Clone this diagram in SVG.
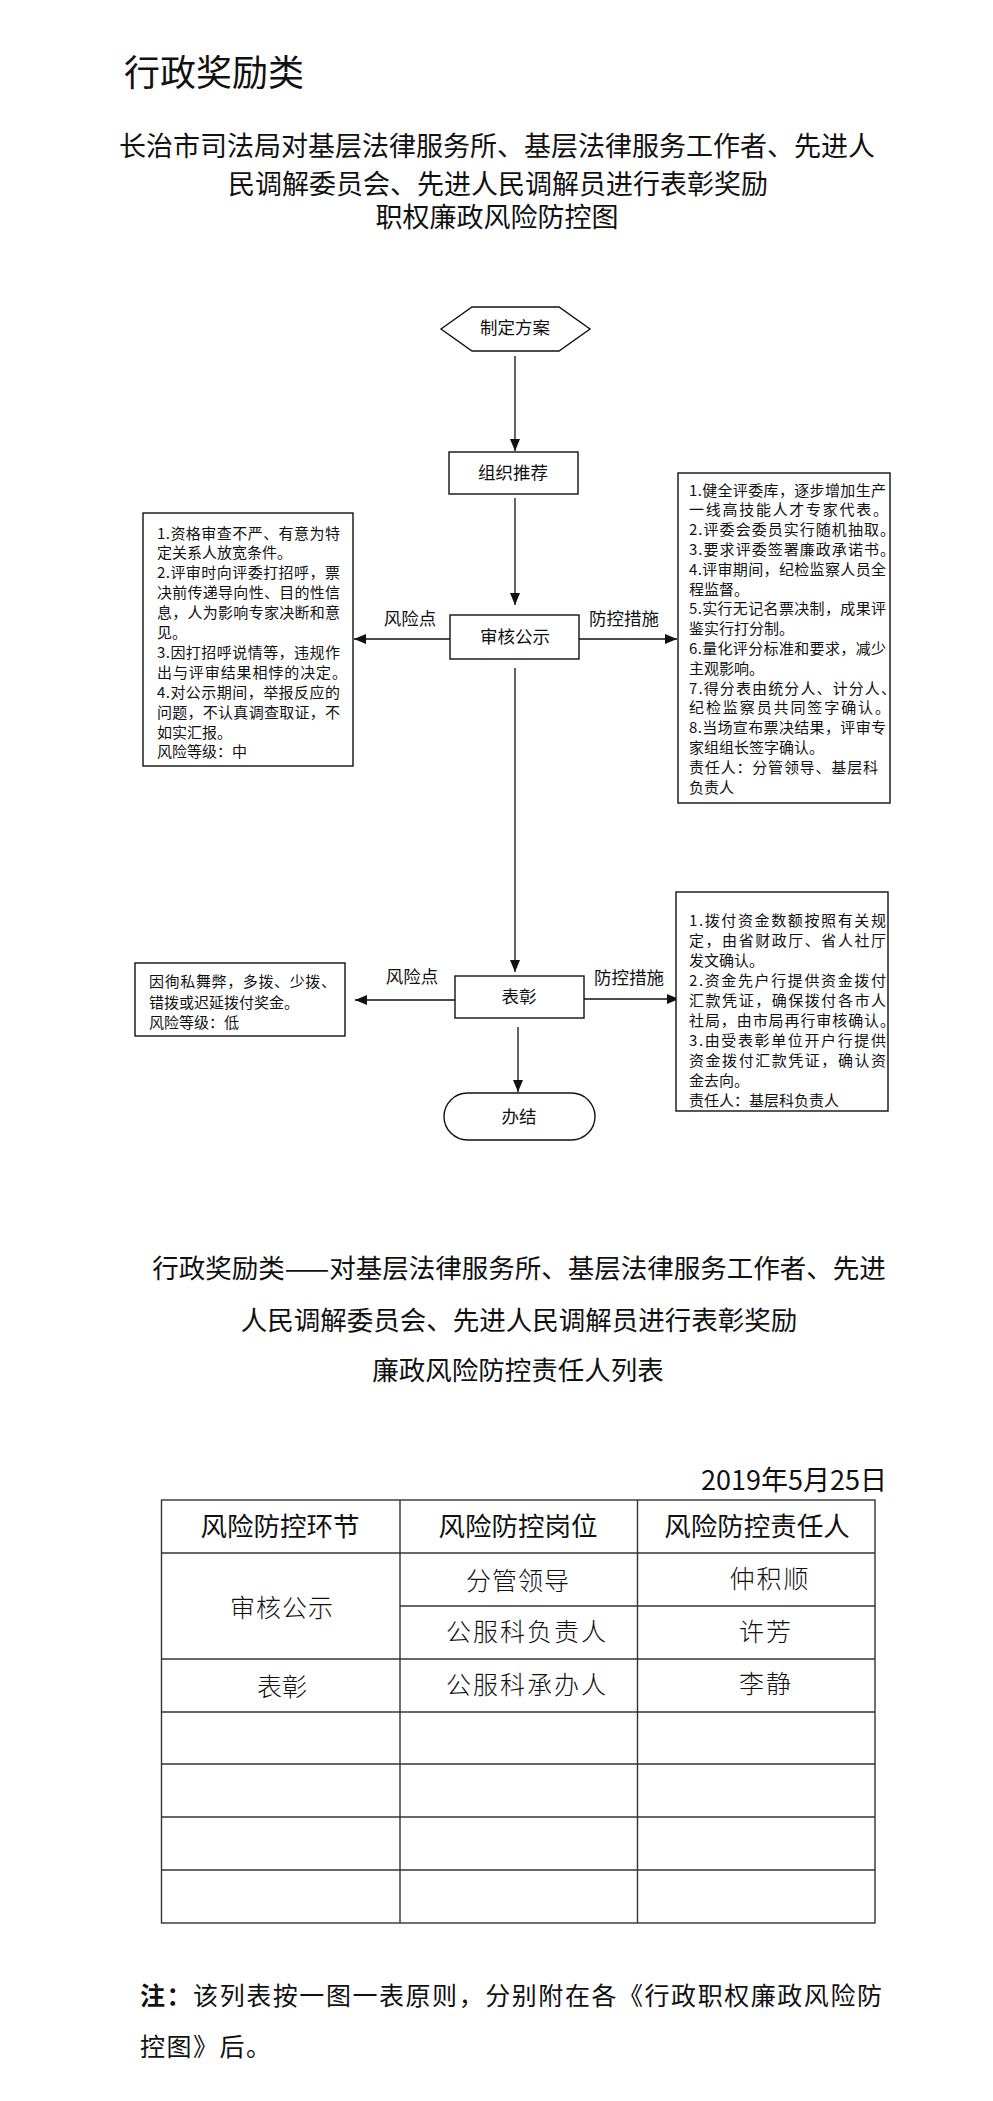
<svg xmlns="http://www.w3.org/2000/svg" width="993" height="2101" viewBox="0 0 993 2101">
<style>
text{font-family:"Noto Sans CJK SC","Liberation Sans",sans-serif;fill:#111}
.h1{font-size:36px}
.h2{font-size:27px;text-anchor:middle}
.h3{font-size:26.5px;text-anchor:middle}
.nd{font-size:17.5px;text-anchor:middle}
.lb{font-size:17.5px;text-anchor:middle}
.bx{font-size:15px}
.shape{fill:#fff;stroke:#111;stroke-width:1.4}
.con{stroke:#111;stroke-width:1.3;fill:none}
.grid{stroke:#333;stroke-width:1.4}
.th{font-size:26.5px;text-anchor:middle}
.td{font-size:25px;text-anchor:middle;font-weight:300}
.note{font-size:25px}
</style>
<defs>
<marker id="arr" viewBox="0 0 12 10" refX="12" refY="5" markerWidth="12" markerHeight="10" markerUnits="userSpaceOnUse" orient="auto">
<path d="M0,0 L12,5 L0,10 Z" fill="#111"/>
</marker>
</defs>
<rect width="993" height="2101" fill="#fff"/>

<text class="h1" x="124" y="86">行政奖励类</text>
<text class="h2" x="497" y="156">长治市司法局对基层法律服务所、基层法律服务工作者、先进人</text>
<text class="h2" x="498" y="194">民调解委员会、先进人民调解员进行表彰奖励</text>
<text class="h2" x="497" y="227">职权廉政风险防控图</text>

<g id="connectors">
<line class="con" x1="515" y1="356" x2="515" y2="451" marker-end="url(#arr)"/>
<line class="con" x1="515" y1="498" x2="515" y2="605" marker-end="url(#arr)"/>
<line class="con" x1="450" y1="639" x2="354" y2="639" marker-end="url(#arr)"/>
<line class="con" x1="579" y1="639" x2="677" y2="639" marker-end="url(#arr)"/>
<line class="con" x1="515" y1="668" x2="515" y2="972" marker-end="url(#arr)"/>
<line class="con" x1="455" y1="1000" x2="355" y2="1000" marker-end="url(#arr)"/>
<line class="con" x1="584" y1="999" x2="679" y2="999" marker-end="url(#arr)"/>
<line class="con" x1="518" y1="1027" x2="518" y2="1092" marker-end="url(#arr)"/>
<text class="lb" x="410" y="625">风险点</text>
<text class="lb" x="624" y="625">防控措施</text>
<text class="lb" x="412" y="983">风险点</text>
<text class="lb" x="629" y="984">防控措施</text>
</g>

<g id="node-start">
<polygon class="shape" points="441,329 472,307 559,307 590,329 559,351 472,351"/>
<text class="nd" x="515" y="334">制定方案</text>
</g>

<g id="node-recommend">
<rect class="shape" x="449" y="452" width="129" height="42"/>
<text class="nd" x="513" y="479">组织推荐</text>
</g>

<g id="node-review">
<rect class="shape" x="450" y="615" width="129" height="44"/>
<text class="nd" x="515" y="643">审核公示</text>
</g>

<g id="risk-review">
<rect class="shape" x="143" y="513" width="210" height="253"/>
<text class="bx" x="157" y="538.5" textLength="183" lengthAdjust="spacing">1.资格审查不严、有意为特</text>
<text class="bx" x="157" y="558.4">定关系人放宽条件。</text>
<text class="bx" x="157" y="578.3" textLength="183" lengthAdjust="spacing">2.评审时向评委打招呼，票</text>
<text class="bx" x="157" y="598.2" textLength="183" lengthAdjust="spacing">决前传递导向性、目的性信</text>
<text class="bx" x="157" y="618.1" textLength="183" lengthAdjust="spacing">息，人为影响专家决断和意</text>
<text class="bx" x="157" y="638">见。</text>
<text class="bx" x="157" y="657.9" textLength="183" lengthAdjust="spacing">3.因打招呼说情等，违规作</text>
<text class="bx" x="157" y="677.8" textLength="190" lengthAdjust="spacing">出与评审结果相悖的决定。</text>
<text class="bx" x="157" y="697.7" textLength="183" lengthAdjust="spacing">4.对公示期间，举报反应的</text>
<text class="bx" x="157" y="717.6" textLength="183" lengthAdjust="spacing">问题，不认真调查取证，不</text>
<text class="bx" x="157" y="737.5">如实汇报。</text>
<text class="bx" x="157" y="757.4">风险等级：中</text>
</g>

<g id="control-review">
<rect class="shape" x="678" y="473" width="212" height="330"/>
<text class="bx" x="689" y="495.5" textLength="197" lengthAdjust="spacing">1.健全评委库，逐步增加生产</text>
<text class="bx" x="689" y="515.3" textLength="199" lengthAdjust="spacing">一线高技能人才专家代表。</text>
<text class="bx" x="689" y="535.1" textLength="206" lengthAdjust="spacing">2.评委会委员实行随机抽取。</text>
<text class="bx" x="689" y="554.9" textLength="206" lengthAdjust="spacing">3.要求评委签署廉政承诺书。</text>
<text class="bx" x="689" y="574.7" textLength="197" lengthAdjust="spacing">4.评审期间，纪检监察人员全</text>
<text class="bx" x="689" y="594.5">程监督。</text>
<text class="bx" x="689" y="614.3" textLength="197" lengthAdjust="spacing">5.实行无记名票决制，成果评</text>
<text class="bx" x="689" y="634.1">鉴实行打分制。</text>
<text class="bx" x="689" y="653.9" textLength="197" lengthAdjust="spacing">6.量化评分标准和要求，减少</text>
<text class="bx" x="689" y="673.7">主观影响。</text>
<text class="bx" x="689" y="693.5" textLength="207" lengthAdjust="spacing">7.得分表由统分人、计分人、</text>
<text class="bx" x="689" y="713.3" textLength="201" lengthAdjust="spacing">纪检监察员共同签字确认。</text>
<text class="bx" x="689" y="733.1" textLength="197" lengthAdjust="spacing">8.当场宣布票决结果，评审专</text>
<text class="bx" x="689" y="752.9">家组组长签字确认。</text>
<text class="bx" x="689" y="772.7" textLength="189" lengthAdjust="spacing">责任人：分管领导、基层科</text>
<text class="bx" x="689" y="792.5">负责人</text>
</g>

<g id="node-award">
<rect class="shape" x="455" y="976" width="129" height="42"/>
<text class="nd" x="519" y="1003">表彰</text>
</g>

<g id="risk-award">
<rect class="shape" x="135" y="963" width="210" height="73"/>
<text class="bx" x="149" y="986.5" textLength="187" lengthAdjust="spacing">因徇私舞弊，多拨、少拨、</text>
<text class="bx" x="149" y="1007.5">错拨或迟延拨付奖金。</text>
<text class="bx" x="149" y="1027.5">风险等级：低</text>
</g>

<g id="control-award">
<rect class="shape" x="676" y="892" width="212" height="219"/>
<text class="bx" x="689" y="925.5" textLength="197" lengthAdjust="spacing">1.拨付资金数额按照有关规</text>
<text class="bx" x="689" y="945.5" textLength="197" lengthAdjust="spacing">定，由省财政厅、省人社厅</text>
<text class="bx" x="689" y="965.5">发文确认。</text>
<text class="bx" x="689" y="985.5" textLength="197" lengthAdjust="spacing">2.资金先户行提供资金拨付</text>
<text class="bx" x="689" y="1005.5" textLength="197" lengthAdjust="spacing">汇款凭证，确保拨付各市人</text>
<text class="bx" x="689" y="1025.5" textLength="206" lengthAdjust="spacing">社局，由市局再行审核确认。</text>
<text class="bx" x="689" y="1045.5" textLength="197" lengthAdjust="spacing">3.由受表彰单位开户行提供</text>
<text class="bx" x="689" y="1065.5" textLength="197" lengthAdjust="spacing">资金拨付汇款凭证，确认资</text>
<text class="bx" x="689" y="1085.5">金去向。</text>
<text class="bx" x="689" y="1105.5">责任人：基层科负责人</text>
</g>

<g id="node-end">
<rect class="shape" x="444" y="1093" width="151" height="47" rx="23.5" ry="23.5"/>
<text class="nd" x="519" y="1123">办结</text>
</g>

<text class="h3" x="519" y="1278">行政奖励类——对基层法律服务所、基层法律服务工作者、先进</text>
<text class="h3" x="519" y="1330">人民调解委员会、先进人民调解员进行表彰奖励</text>
<text class="h3" x="518" y="1380">廉政风险防控责任人列表</text>

<text x="887" y="1490" style="font-size:27px;text-anchor:end">2019年5月25日</text>

<g id="table">
<rect x="161.5" y="1500" width="713.5" height="423" fill="none" class="grid"/>
<line class="grid" x1="400" y1="1500" x2="400" y2="1923"/>
<line class="grid" x1="637.5" y1="1500" x2="637.5" y2="1923"/>
<line class="grid" x1="161.5" y1="1553" x2="875" y2="1553"/>
<line class="grid" x1="400" y1="1606" x2="875" y2="1606"/>
<line class="grid" x1="161.5" y1="1659" x2="875" y2="1659"/>
<line class="grid" x1="161.5" y1="1712" x2="875" y2="1712"/>
<line class="grid" x1="161.5" y1="1764" x2="875" y2="1764"/>
<line class="grid" x1="161.5" y1="1817" x2="875" y2="1817"/>
<line class="grid" x1="161.5" y1="1870" x2="875" y2="1870"/>
<text class="th" x="280" y="1536">风险防控环节</text>
<text class="th" x="518" y="1536">风险防控岗位</text>
<text class="th" x="757" y="1536">风险防控责任人</text>
<text class="td" x="518" y="1590" letter-spacing="1">分管领导</text>
<text class="td" x="770" y="1588" letter-spacing="2">仲积顺</text>
<text class="td" x="282" y="1617" letter-spacing="1">审核公示</text>
<text class="td" x="527" y="1641" letter-spacing="2">公服科负责人</text>
<text class="td" x="766" y="1641" letter-spacing="2">许芳</text>
<text class="td" x="282" y="1696">表彰</text>
<text class="td" x="527" y="1694" letter-spacing="2">公服科承办人</text>
<text class="td" x="766" y="1693" letter-spacing="2">李静</text>
</g>

<text class="note" x="140" y="2005" textLength="742" lengthAdjust="spacing"><tspan font-weight="bold">注：</tspan>该列表按一图一表原则，分别附在各《行政职权廉政风险防</text>
<text class="note" x="140" y="2056" letter-spacing="1.5">控图》后。</text>
</svg>
